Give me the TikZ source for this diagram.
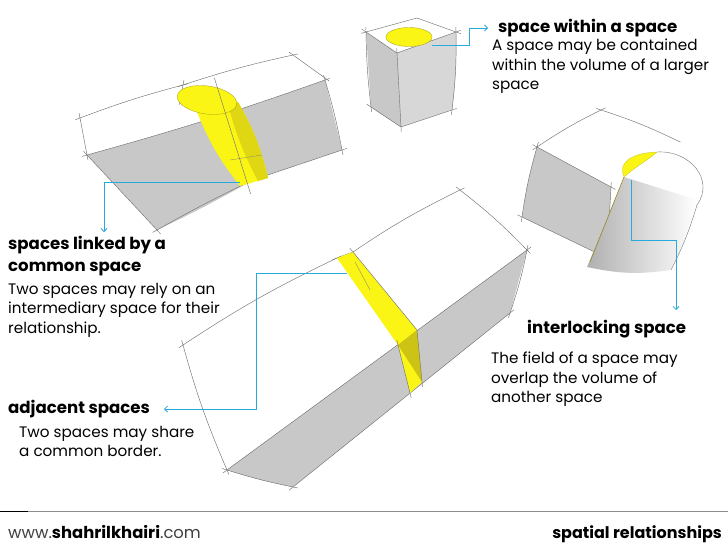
\documentclass[tikz,border=0pt]{standalone}
\usepackage{fontspec}
\setmainfont{Poppins}
\definecolor{gfa}{RGB}{200,200,200}
\definecolor{gfb}{RGB}{215,215,215}
\definecolor{yel}{RGB}{250,245,20}
\definecolor{yeld}{RGB}{205,195,20}
\definecolor{cyanl}{RGB}{40,170,220}
\begin{document}
\begin{tikzpicture}[x=1pt,y=-1pt,
  sk/.style={draw=black!55,line width=0.45pt,shorten >=-5pt,shorten <=-5pt},
  yf/.style={fill=yel,draw=yeld!80!black,line width=0.3pt},
  lead/.style={draw=cyanl,line width=0.8pt},
  leadar/.style={lead,-{Straight Barb[length=3pt,width=6pt]}},
  ttl/.style={anchor=base west,inner sep=0pt,font=\fontsize{16.6}{22}\selectfont\bfseries},
  bdy/.style={anchor=base west,inner sep=0pt,font=\fontsize{15.2}{19.5}\selectfont,align=left}]
\usetikzlibrary{arrows.meta}
\fill[white] (0,0) rectangle (728,546);
\path[use as bounding box] (0,0) rectangle (728,546);

% ---- block 1 (linked) ----
\fill[gfa] (87,155) to[bend right=2] (325,80) -- (342,150) -- (253,180) to[bend left=2] (157,230) -- cycle;
\draw[sk] (80,118) to[bend left=3] (183,85);
\draw[sk] (183,85) to[bend left=3] (293,55);
\draw[sk] (293,55) -- (325,78);
\draw[sk] (80,118) -- (87,155);
\draw[sk] (87,155) to[bend right=2] (325,80);
\draw[sk] (325,80) to[bend left=3] (342,150);
\draw[sk] (87,155) -- (157,230);
\draw[sk] (157,230) to[bend left=2] (253,180);
\draw[sk] (253,180) -- (342,150);
\draw[sk] (183,85) -- (180,100);
\fill[yel] (197,112) -- (238,102) to[bend left=8] (268,178) -- (240,186) to[bend left=8] cycle;
\fill[yeld!60!yel] (228,105) -- (238,102) to[bend left=8] (268,178) -- (258,181) to[bend left=6] cycle;
\draw[black!50,line width=0.3pt] (230,160) -- (262,155);
\draw[yf,rotate around={-8:(207,100)}] (207,100) ellipse (30 and 14);
\draw[sk,shorten >=-2pt,shorten <=-2pt] (215,80) -- (250,192);

% ---- block 2 (cube) ----
\fill[gfb] (397,53) -- (456,32) to[bend left=4] (452,110) -- (401,127) -- cycle;
\fill[gfa] (366,32) -- (397,53) -- (401,127) -- (371,107) -- cycle;
\draw[sk] (366,32) -- (417,18) -- (456,32);
\draw[sk] (366,32) -- (397,53) -- (456,32);
\draw[sk] (366,32) to[bend right=3] (371,107);
\draw[sk] (397,53) -- (401,127);
\draw[sk] (456,32) to[bend left=4] (452,110);
\draw[sk] (371,107) -- (401,127) -- (452,110);
\draw[yf] (409,37) ellipse (23 and 9.5);

% ---- block 3 (interlocking) ----
\fill[gfa] (537,147) -- (611,187) -- (607,258) -- (522,217) to[bend left=4] cycle;
\draw[sk] (537,147) to[bend left=4] (601,110);
\draw[sk] (601,110) to[bend left=4] (676,140);
\draw[sk] (537,147) -- (611,187);
\draw[sk] (537,147) to[bend right=4] (522,217);
\draw[sk] (522,217) -- (607,258);
\draw[sk] (611,187) -- (607,258);
\shade[left color=gfa!80!black!60!gfa,right color=white]
  (624,177) -- (697,200) to[bend left=5] (671,270) to[bend left=10] (587,267) -- cycle;
\draw[yeld!70!black,line width=0.5pt] (624,177) -- (590,262);
\draw[black!55,line width=0.4pt] (657,152) .. controls (690,150) and (715,180) .. (697,205);
\draw[black!55,line width=0.4pt] (697,205) to[bend left=5] (671,270);
\fill[yel,draw=yeld,line width=0.3pt] (624,177) .. controls (618,165) and (628,153) .. (657,152) .. controls (648,160) and (635,167) .. cycle;

% ---- block 4 (beam) ----
\fill[gfa] (227,470) -- (527,250) -- (510,313) -- (293,487) to[bend left=3] cycle;
\draw[sk] (183,345) to[bend left=4] (337,258);
\draw[sk] (337,258) -- (353,252) to[bend left=4] (460,190);
\draw[sk] (460,190) to[bend left=4] (527,250);
\draw[sk] (183,345) to[bend right=4] (227,470);
\draw[sk] (227,470) -- (527,250);
\draw[sk] (527,250) to[bend left=4] (510,313);
\draw[sk] (227,470) to[bend right=3] (293,487);
\draw[sk] (293,487) -- (510,313);
\fill[yel] (337,258) -- (353,252) -- (417,330) -- (398,345) -- cycle;
\fill[yel] (398,345) -- (417,330) -- (422,382) -- (410,393) -- cycle;
\fill[yeld] (398,345) -- (417,330) -- (422,382) -- cycle;
\draw[black!50,line width=0.3pt] (355,262) -- (370,290);
\draw[sk] (353,252) -- (417,330) -- (422,382);
\draw[sk] (398,345) -- (410,393);

% ---- leaders ----
\coordinate (l1a) at (240,182); \coordinate (l1b) at (104,182); \coordinate (l1c) at (104,232);
\draw[leadar] (l1a) -- (l1b) -- (l1c);
\coordinate (l2a) at (432,45); \coordinate (l2b) at (469,45); \coordinate (l2c) at (469,28); \coordinate (l2d) at (488,28);
\draw[leadar] (l2a) -- (l2b) -- (l2c) -- (l2d);
\coordinate (l3a) at (631,180); \coordinate (l3b) at (631,240); \coordinate (l3c) at (676,240); \coordinate (l3d) at (676,310);
\draw[leadar] (l3a) -- (l3b) -- (l3c) -- (l3d);
\coordinate (l4a) at (347,273); \coordinate (l4b) at (256,273); \coordinate (l4c) at (256,409); \coordinate (l4d) at (164,409);
\draw[leadar] (l4a) -- (l4b) -- (l4c) -- (l4d);

% ---- texts ----
\node[ttl] (t1) at (498,32) {space within a space};
\node[bdy,anchor=north west] (b1) at (492,39) {A space may be contained\\within the volume of a larger\\space};
\node[ttl,align=left,anchor=north west] (t2) at (8,236) {spaces linked by a\\common space};
\node[bdy,anchor=north west] (b2) at (8,283) {Two spaces may rely on an\\intermediary space for their\\relationship.};
\node[ttl] (t3) at (527,333) {interlocking space};
\node[bdy,anchor=north west] (b3) at (491,352) {The field of a space may\\overlap the volume of\\another space};
\node[ttl] (t4) at (8,413) {adjacent spaces};
\node[bdy,anchor=north west] (b4) at (19,426) {Two spaces may share\\a common border.};

% ---- footer ----
\draw[black!45,line width=0.8pt] (0,511) -- (728,511);
\draw[black,line width=1pt] (0,511) -- (28,511);
\node[anchor=base west,inner sep=0pt,font=\fontsize{16.4}{18}\selectfont,text=black!75] (f1) at (8,538) {www.\textbf{\color{black}shahrilkhairi}.com};
\node[anchor=base east,inner sep=0pt,font=\fontsize{16}{18}\selectfont\bfseries] (f2) at (722,538) {spatial relationships};
\end{tikzpicture}
\end{document}
